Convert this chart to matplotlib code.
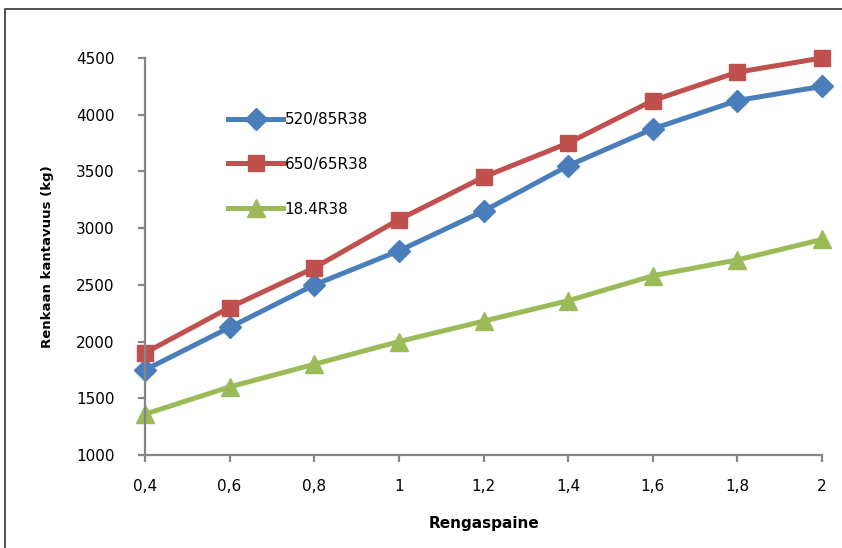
import matplotlib.pyplot as plt
from matplotlib.patches import Rectangle

# rengaspaine (bar) ja kantavuus (kg)
pressure = [0.4, 0.6, 0.8, 1.0, 1.2, 1.4, 1.6, 1.8, 2.0]
xtick_labels = ['0,4', '0,6', '0,8', '1', '1,2', '1,4', '1,6', '1,8', '2']
load_520 = [1750, 2125, 2500, 2800, 3150, 3550, 3875, 4125, 4250]
load_650 = [1900, 2300, 2650, 3075, 3450, 3750, 4125, 4375, 4500]
load_184 = [1360, 1600, 1800, 2000, 2180, 2360, 2580, 2720, 2900]
yticks = [1000, 1500, 2000, 2500, 3000, 3500, 4000, 4500]

plt.rcParams['font.family'] = ['DejaVu Sans']

fig = plt.figure(figsize=(8.42, 5.48), dpi=100)
ax = fig.add_axes([145/842, 1-455/548, (822-145)/842, (455-58)/548])

ax.plot(pressure, load_520, color='#4a7ebb', lw=3.6, marker='D', ms=11, label='520/85R38')
ax.plot(pressure, load_650, color='#c0504d', lw=3.6, marker='s', ms=11.5, label='650/65R38')
ax.plot(pressure, load_184, color='#9bbb59', lw=3.6, marker='^', ms=13, label='18.4R38')

ax.set_xlim(0.4, 2.0)
ax.set_ylim(1000, 4500)
ax.set_xticks(pressure)
ax.set_xticklabels(xtick_labels)
ax.set_yticks(yticks)

for s in ['top', 'right']:
    ax.spines[s].set_visible(False)
for s in ['left', 'bottom']:
    ax.spines[s].set_color('#868686')
    ax.spines[s].set_linewidth(1.6)
    ax.spines[s].set_clip_on(False)
ax.tick_params(axis='both', colors='#868686', width=1.6, length=5, labelcolor='black', labelsize=11)
ax.tick_params(axis='y', pad=17)
ax.tick_params(axis='x', pad=12)
for line in ax.lines:
    line.set_clip_on(False)

ax.set_xlabel('Rengaspaine', fontsize=11, fontweight='bold', labelpad=16)
ax.set_ylabel('Renkaan kantavuus (kg)', fontsize=9.5, fontweight='bold', labelpad=16)

leg = ax.legend(loc='upper left', bbox_to_anchor=(228/842, 1-112/548), bbox_transform=fig.transFigure,
                frameon=False, numpoints=1, fontsize=11, handlelength=3.6, handletextpad=0.1,
                labelspacing=1.95, borderpad=0, borderaxespad=0)

# kehys kuvan ympärillä (vain vasen ja yläreuna näkyvissä)
fig.patches.append(Rectangle((5/842, -0.1), 1.2, 1.1 - 9/548, transform=fig.transFigure,
                             fill=False, edgecolor='#333333', lw=1.2))

fig.savefig('out.png', dpi=100)
